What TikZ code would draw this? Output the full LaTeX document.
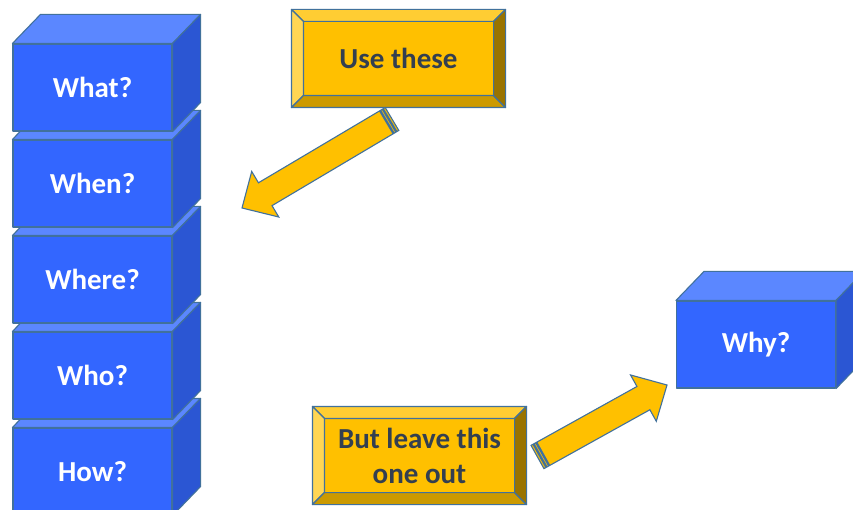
\documentclass[tikz,border=0pt]{standalone}
\usepackage{fontspec}
\setmainfont{Carlito}
\usetikzlibrary{calc}

\definecolor{bluefront}{HTML}{3366FF}
\definecolor{bluetop}{HTML}{5B87FF}
\definecolor{blueside}{HTML}{2B56D3}
\definecolor{edgeblue}{HTML}{41719C}
\definecolor{goldmid}{HTML}{FFC000}
\definecolor{goldtop}{HTML}{FFCD33}
\definecolor{goldleft}{HTML}{FFD653}
\definecolor{goldbottom}{HTML}{CC9A00}
\definecolor{goldright}{HTML}{997300}
\definecolor{slatetext}{HTML}{333F50}

\tikzset{
  cubeface/.style={draw=edgeblue, line width=1.1pt, line join=round},
  cubefront/.style={cubeface, fill=bluefront, rectangle, minimum width=159pt,
    minimum height=87pt, inner sep=0pt, text=white,
    font=\fontsize{29}{33}\selectfont\bfseries},
  bevelbox/.style={draw=edgeblue, line width=1.1pt, fill=goldmid, rectangle,
    minimum width=213pt, minimum height=97pt, inner sep=0pt, text=slatetext,
    align=center, font=\fontsize{29}{35}\selectfont\bfseries},
  bevel/.style={draw=edgeblue, line width=1.1pt, line join=round},
  blockarrow/.style={draw=edgeblue, line width=1.1pt, fill=goldmid, line join=miter},
  stripe/.style={draw=edgeblue, line width=0.8pt, fill=edgeblue!85},
}

% a box with its top and right faces drawn in oblique view
\newcommand{\solidbox}[3]{%
  \node[cubefront] (#1) at (#2) {#3};
  \filldraw[cubeface, fill=bluetop]
    (#1.north west) -- ++(28,-29) -- ($(#1.north east)+(28,-29)$)
    -- (#1.north east) -- cycle;
  \filldraw[cubeface, fill=blueside]
    (#1.north east) -- ++(28,-29) -- ($(#1.south east)+(28,-29)$)
    -- (#1.south east) -- cycle;
}

% a gold button with bevelled edges
\newcommand{\goldbutton}[3]{%
  \node[bevelbox] (#1) at (#2) {#3};
  \filldraw[bevel, fill=goldtop]
    (#1.north west) -- (#1.north east) -- ($(#1.north east)+(-12,12)$)
    -- ($(#1.north west)+(12,12)$) -- cycle;
  \filldraw[bevel, fill=goldleft]
    (#1.north west) -- ($(#1.north west)+(12,12)$)
    -- ($(#1.south west)+(12,-12)$) -- (#1.south west) -- cycle;
  \filldraw[bevel, fill=goldbottom]
    (#1.south west) -- ($(#1.south west)+(12,-12)$)
    -- ($(#1.south east)+(-12,-12)$) -- (#1.south east) -- cycle;
  \filldraw[bevel, fill=goldright]
    (#1.north east) -- (#1.south east) -- ($(#1.south east)+(-12,-12)$)
    -- ($(#1.north east)+(-12,12)$) -- cycle;
}

% striped block arrow from coordinate #1 (tail centre) towards #2 (tip)
\newcommand{\stripedarrow}[2]{%
  \begin{scope}[shift={(#1)}]
  \path let \p1=($(#2)-(#1)$), \n1={veclen(\x1,\y1)}, \n2={atan2(\y1,\x1)} in
    [rotate=\n2, x=1pt, y=1pt]
    [stripe] (0,-13.3) rectangle (2.2,13.3)
    [stripe] (3.4,-13.3) rectangle (5.4,13.3)
    [blockarrow] (6.6,-13.3) -- (\n1-27,-13.3) -- (\n1-27,-26.5)
      -- (\n1,0) -- (\n1-27,26.5) -- (\n1-27,13.3) -- (6.6,13.3) -- cycle;
  \end{scope}
}

\begin{document}
\begin{tikzpicture}[x=1pt, y=-1pt]
  \clip (0,0) rectangle (853,510);
  \fill[white] (0,0) rectangle (853,510);

  % stack of question boxes, lowest first so upper boxes overlap
  \solidbox{how}{92.5,471.5}{How?}
  \solidbox{who}{92.5,375.5}{Who?}
  \solidbox{where}{92.5,279.5}{Where?}
  \solidbox{when}{92.5,183.5}{When?}
  \solidbox{what}{92.5,87.5}{What?}

  % the single box on the right
  \solidbox{why}{756,344.5}{Why?}

  % labels
  \goldbutton{use}{398.5,58.5}{Use these}
  \goldbutton{leave}{419.5,455.5}{But leave this\\one out}

  % arrow ends
  \coordinate (usetail) at (392,119);
  \coordinate (usetip) at (242,208);
  \coordinate (leavetail) at (537.5,457);
  \coordinate (leavetip) at (667,385);

  \stripedarrow{usetail}{usetip}
  \stripedarrow{leavetail}{leavetip}
\end{tikzpicture}
\end{document}
